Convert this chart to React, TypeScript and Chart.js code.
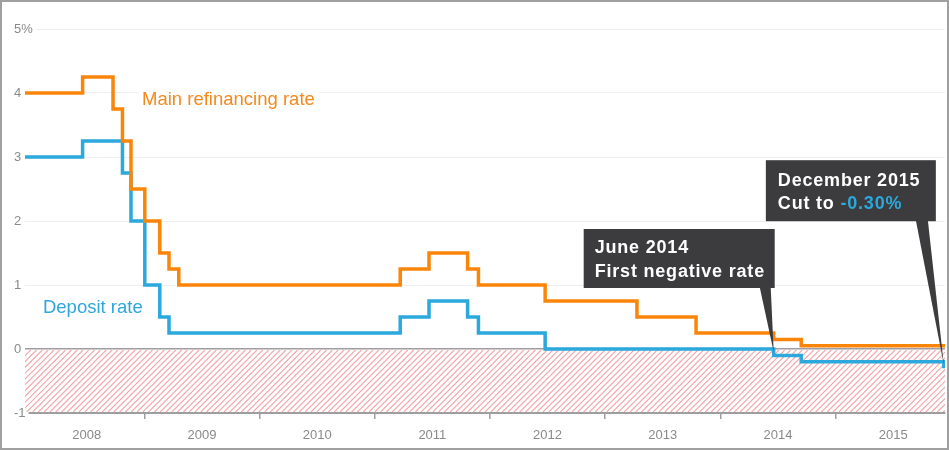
import React, { useEffect, useRef } from 'react';
import { Chart, registerables } from 'chart.js';

Chart.register(...registerables);

// Decimal-year dates of each rate change
const mroDates = [2007.964, 2008.464, 2008.728, 2008.81, 2008.884, 2009.004, 2009.134, 2009.214, 2009.299, 2011.221, 2011.471, 2011.806, 2011.9, 2012.479, 2013.276, 2013.789, 2014.463, 2014.702, 2015.95];
const mroRates = [4.0, 4.25, 3.75, 3.25, 2.5, 2.0, 1.5, 1.25, 1.0, 1.25, 1.5, 1.25, 1.0, 0.75, 0.5, 0.25, 0.15, 0.05, 0.05];
const depositDates = [2007.964, 2008.464, 2008.81, 2008.884, 2009.004, 2009.134, 2009.214, 2011.221, 2011.471, 2011.806, 2011.9, 2012.479, 2014.463, 2014.702, 2015.94];
const depositRates = [3.0, 3.25, 2.75, 2.0, 1.0, 0.5, 0.25, 0.5, 0.75, 0.5, 0.25, 0.0, -0.1, -0.2, -0.3];

const yearBoundaries = [2009, 2010, 2011, 2012, 2013, 2014, 2015];
const yearLabels = ['2008', '2009', '2010', '2011', '2012', '2013', '2014', '2015'];
const yTicks = [-1, 0, 1, 2, 3, 4, 5];
const xMin = 2007.964;
const xMax = 2015.95;

const seriesNames = ['Main refinancing rate', 'Deposit rate'];
const note1 = ['June 2014', 'First negative rate'];
const note2Title = 'December 2015';
const note2Prefix = 'Cut to ';
const note2Value = '-0.30%';

const ORANGE = '#fb8508';
const BLUE = '#2ba8dc';
const HATCH = 'rgb(240, 150, 155)';
const FAMILY = "'Liberation Sans', Arial, Helvetica, sans-serif";

const decorPlugin = {
  id: 'ecbDecor',
  beforeDatasetsDraw(chart: any) {
    const { ctx, chartArea, scales } = chart;
    const x = scales.x;
    const y = scales.y;
    // hatched negative zone
    const top = y.getPixelForValue(0) + 1;
    const bottom = y.getPixelForValue(-1) - 1;
    const left = chartArea.left;
    const right = chartArea.right;
    const h = bottom - top;
    ctx.save();
    ctx.beginPath();
    ctx.rect(left, top, right - left, h);
    ctx.clip();
    ctx.globalAlpha = 0.85;
    ctx.strokeStyle = HATCH;
    ctx.lineWidth = 1.1;
    ctx.beginPath();
    for (let k = left - h; k < right + 6; k += 5.8) {
      ctx.moveTo(k, bottom);
      ctx.lineTo(k + h, top);
    }
    ctx.stroke();
    ctx.restore();

    // series labels with white backdrop
    const items = [
      { text: seriesNames[0], color: '#f5891c', px: x.getPixelForValue(2008.98), py: y.getPixelForValue(3.9) },
      { text: seriesNames[1], color: '#2fa7da', px: x.getPixelForValue(2008.12), py: y.getPixelForValue(0.66) },
    ];
    ctx.save();
    ctx.font = `18.5px ${FAMILY}`;
    ctx.textBaseline = 'middle';
    ctx.textAlign = 'left';
    for (const it of items) {
      const w = ctx.measureText(it.text).width;
      ctx.fillStyle = '#ffffff';
      ctx.fillRect(it.px - 4, it.py - 11, w + 8, 22);
      ctx.fillStyle = it.color;
      ctx.fillText(it.text, it.px, it.py + 1);
    }
    ctx.restore();
  },
  afterDatasetsDraw(chart: any) {
    const { ctx, scales } = chart;
    const x = scales.x;
    const y = scales.y;
    const BOX = '#3c3c3e';
    ctx.save();
    // Callout 1
    const t1x = x.getPixelForValue(2014.463);
    const t1y = y.getPixelForValue(0) + 3;
    const r1 = t1x + 1;
    const l1 = r1 - 191;
    const top1 = y.getPixelForValue(1.875);
    const h1 = 59;
    ctx.fillStyle = BOX;
    ctx.fillRect(l1, top1, r1 - l1, h1);
    ctx.beginPath();
    ctx.moveTo(r1 - 15, top1 + h1 - 1);
    ctx.lineTo(r1 - 4, top1 + h1 - 1);
    ctx.lineTo(t1x, t1y);
    ctx.closePath();
    ctx.fill();
    // Callout 2
    const t2x = x.getPixelForValue(2015.94);
    const t2y = y.getPixelForValue(-0.2) + 3;
    const r2 = t2x - 8;
    const l2 = r2 - 170;
    const top2 = y.getPixelForValue(2.95);
    const h2 = 61;
    ctx.fillRect(l2, top2, r2 - l2, h2);
    ctx.beginPath();
    ctx.moveTo(r2 - 20, top2 + h2 - 1);
    ctx.lineTo(r2 - 8, top2 + h2 - 1);
    ctx.lineTo(t2x, t2y);
    ctx.closePath();
    ctx.fill();

    ctx.font = `bold 18px ${FAMILY}`;
    (ctx as any).letterSpacing = '0.8px';
    ctx.textBaseline = 'alphabetic';
    ctx.textAlign = 'left';
    ctx.fillStyle = '#ffffff';
    ctx.fillText(note1[0], l1 + 11, top1 + 24);
    ctx.fillText(note1[1], l1 + 11, top1 + 48);
    ctx.fillText(note2Title, l2 + 12, top2 + 26);
    ctx.fillText(note2Prefix, l2 + 12, top2 + 49);
    const pw = ctx.measureText(note2Prefix).width;
    ctx.fillStyle = BLUE;
    ctx.fillText(note2Value, l2 + 12 + pw, top2 + 49);
    (ctx as any).letterSpacing = '0px';
    ctx.restore();
  },
};

export default function App() {
  const ref = useRef<HTMLCanvasElement | null>(null);
  useEffect(() => {
    if (!ref.current) return;
    const chart = new Chart(ref.current, {
      type: 'line',
      data: {
        datasets: [
          {
            label: seriesNames[0],
            data: mroDates.map((d, i) => ({ x: d, y: mroRates[i] })),
            borderColor: ORANGE,
            borderWidth: 3.5,
            pointRadius: 0,
            stepped: 'before',
            fill: false,
            borderJoinStyle: 'miter',
          },
          {
            label: seriesNames[1],
            data: depositDates.map((d, i) => ({ x: d, y: depositRates[i] })),
            borderColor: BLUE,
            borderWidth: 3.5,
            pointRadius: 0,
            stepped: 'before',
            fill: false,
            borderJoinStyle: 'miter',
          },
        ],
      },
      options: {
        responsive: false,
        animation: false,
        layout: { padding: { left: 12, right: 2, top: 27, bottom: 0 } },
        plugins: { legend: { display: false }, tooltip: { enabled: false } },
        scales: {
          x: {
            type: 'linear',
            position: 'bottom',
            min: xMin,
            max: xMax,
            weight: 0,
            afterBuildTicks: (s: any) => {
              s.ticks = yearBoundaries.map((v) => ({ value: v }));
            },
            afterFit: (s: any) => {
              s.height = 6;
            },
            ticks: { display: false },
            grid: { display: true, drawOnChartArea: false, drawTicks: true, tickLength: 6, color: '#9e9e9e', lineWidth: 1.5 },
            border: { display: true, color: '#9e9e9e', width: 1.5 },
          },
          xLabels: {
            type: 'linear',
            axis: 'x',
            position: 'bottom',
            min: xMin,
            max: xMax,
            weight: 1,
            afterBuildTicks: (s: any) => {
              s.ticks = yearLabels.map((l) => ({ value: Number(l) + 0.5 }));
            },
            afterFit: (s: any) => {
              s.height = 29;
            },
            ticks: {
              autoSkip: false,
              maxRotation: 0,
              padding: 1,
              color: '#8a8a8a',
              font: { size: 13, family: FAMILY },
              callback: (_v: any, i: number) => yearLabels[i],
            },
            grid: { display: false },
            border: { display: false },
          },
          y: {
            type: 'linear',
            position: 'left',
            min: -1,
            max: 5,
            afterBuildTicks: (s: any) => {
              s.ticks = yTicks.map((v) => ({ value: v }));
            },
            afterFit: (s: any) => {
              s.width = 11;
            },
            ticks: {
              mirror: true,
              crossAlign: 'near',
              padding: -11,
              color: '#8a8a8a',
              font: { size: 13, family: FAMILY },
              callback: (v: any) => (Number(v) === 5 ? '5%' : String(v)),
              showLabelBackdrop: true,
              backdropColor: '#ffffff',
              backdropPadding: { top: 0, bottom: 0, left: 0, right: 3 },
            },
            grid: {
              drawTicks: false,
              color: (c: any) => (c.tick && c.tick.value === 0 ? '#a29ca2' : c.tick && c.tick.value === -1 ? '#9e9e9e' : '#eeeeee'),
              lineWidth: (c: any) => (c.tick && c.tick.value === 0 ? 1.5 : 1),
            },
            border: { display: false },
          },
        },
      },
      plugins: [decorPlugin],
    } as any);
    return () => chart.destroy();
  }, []);

  return (
    <div
      style={{
        position: 'absolute',
        left: 0,
        top: 0,
        width: 949,
        height: 450,
        boxSizing: 'border-box',
        border: '2px solid #a0a0a0',
        background: '#ffffff',
      }}
    >
      <canvas ref={ref} width={945} height={446} style={{ display: 'block' }} />
    </div>
  );
}
